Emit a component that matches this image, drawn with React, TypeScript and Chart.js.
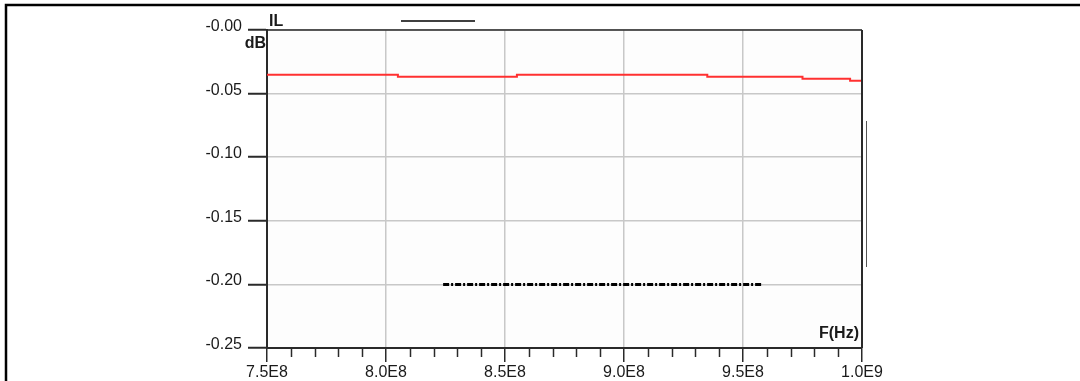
import React, { useEffect, useRef } from 'react';
import { Chart, registerables } from 'chart.js';

Chart.register(...registerables);

// ---- data ----
const freqHz = [7.5e8, 8.05e8, 8.55e8, 9.35e8, 9.75e8, 9.95e8, 1.0e9];
const ilDb = [-0.0351, -0.0368, -0.0351, -0.0368, -0.0384, -0.0398, -0.0398];
const specFreqHz = [8.24e8, 9.58e8];
const specDb = [-0.2, -0.2];
const xMajorTicks = [7.5e8, 8.0e8, 8.5e8, 9.0e8, 9.5e8, 1.0e9];
const xTickLabels = ['7.5E8', '8.0E8', '8.5E8', '9.0E8', '9.5E8', '1.0E9'];
const yTicks = [0, -0.05, -0.1, -0.15, -0.2, -0.25];
const yTickLabels = ['-0.00', '-0.05', '-0.10', '-0.15', '-0.20', '-0.25'];
const xMin = 7.5e8;
const xMax = 1.0e9;
const xMinorStep = 1e7;
const yMin = -0.25;
const yMax = 0;
const yStep = 0.05;

const FONT = '"Liberation Sans", Arial, Helvetica, sans-serif';
const AXIS = '#2a2a2a';
const GRID = '#c8c8c8';

const isMajor = (v: number) => xMajorTicks.some((m) => Math.abs(m - v) < 1);

const decorPlugin = {
  id: 'decor',
  beforeDraw(chart: any) {
    const { ctx, chartArea } = chart;
    ctx.save();
    ctx.fillStyle = '#fdfdfd';
    ctx.fillRect(chartArea.left, chartArea.top, chartArea.right - chartArea.left, chartArea.bottom - chartArea.top);
    ctx.restore();
  },
  afterDraw(chart: any) {
    const { ctx, chartArea } = chart;
    const xs = chart.scales.x;
    const { left, right, top, bottom } = chartArea;
    ctx.save();
    // outer frame (top and left)
    ctx.strokeStyle = '#000';
    ctx.lineWidth = 2.5;
    ctx.beginPath();
    ctx.moveTo(6, 381);
    ctx.lineTo(6, 5);
    ctx.lineTo(1080, 5);
    ctx.stroke();
    // plot top + right border
    ctx.strokeStyle = AXIS;
    ctx.lineWidth = 1.5;
    ctx.beginPath();
    ctx.moveTo(left, top);
    ctx.lineTo(right, top);
    ctx.stroke();
    ctx.lineWidth = 2;
    ctx.beginPath();
    ctx.moveTo(right, top);
    ctx.lineTo(right, bottom);
    ctx.stroke();
    // minor ticks
    ctx.lineWidth = 1.5;
    ctx.strokeStyle = AXIS;
    for (let v = xMin; v <= xMax + 1; v += xMinorStep) {
      if (isMajor(v)) continue;
      const px = Math.round(xs.getPixelForValue(v)) + 0.5;
      ctx.beginPath();
      ctx.moveTo(px, bottom);
      ctx.lineTo(px, bottom + 9);
      ctx.stroke();
    }
    // legend sample line at top
    ctx.strokeStyle = '#000';
    ctx.lineWidth = 1.5;
    ctx.beginPath();
    ctx.moveTo(401, 21);
    ctx.lineTo(475, 21);
    ctx.stroke();
    // thin vertical line at right
    ctx.strokeStyle = '#555';
    ctx.lineWidth = 1;
    ctx.beginPath();
    ctx.moveTo(866.5, 121);
    ctx.lineTo(866.5, 267);
    ctx.stroke();
    // labels
    ctx.fillStyle = '#1a1a1a';
    ctx.font = `bold 16px ${FONT}`;
    ctx.textBaseline = 'alphabetic';
    ctx.textAlign = 'left';
    ctx.fillText('IL', left + 2, top - 4);
    ctx.textAlign = 'right';
    ctx.fillText('dB', left - 1, top + 18);
    ctx.fillText('F(Hz)', right - 3, bottom - 10);
    ctx.restore();
  },
};

export default function App() {
  const ref = useRef<HTMLCanvasElement | null>(null);
  useEffect(() => {
    const canvas = ref.current;
    if (!canvas) return;
    const chart = new Chart(canvas, {
      type: 'line',
      data: {
        datasets: [
          {
            label: 'IL',
            data: freqHz.map((f, i) => ({ x: f, y: ilDb[i] })),
            borderColor: '#ff3030',
            borderWidth: 2,
            pointRadius: 0,
            stepped: 'before',
            fill: false,
          },
          {
            label: 'Spec',
            data: specFreqHz.map((f, i) => ({ x: f, y: specDb[i] })),
            borderColor: '#000',
            borderWidth: 3,
            borderDash: [6, 2, 2, 2],
            pointRadius: 0,
            fill: false,
          },
        ],
      },
      options: {
        responsive: false,
        animation: false,
        devicePixelRatio: 1,
        layout: { padding: { top: 30, right: 218, left: 0, bottom: 0 } },
        plugins: { legend: { display: false }, tooltip: { enabled: false } },
        scales: {
          x: {
            type: 'linear',
            min: xMin,
            max: xMax,
            afterFit: (s: any) => { s.height = 33; },
            ticks: {
              stepSize: xMinorStep,
              autoSkip: false,
              maxRotation: 0,
              padding: 1,
              color: '#1a1a1a',
              font: { family: FONT, size: 16 },
              callback: (v: any) => {
                const i = xMajorTicks.findIndex((m) => Math.abs(m - v) < 1);
                return i >= 0 ? xTickLabels[i] : '';
              },
            },
            grid: {
              color: (c: any) => (c.tick && isMajor(c.tick.value) ? GRID : 'rgba(0,0,0,0)'),
              lineWidth: 1.5,
              tickColor: (c: any) => (c.tick && isMajor(c.tick.value) ? AXIS : 'rgba(0,0,0,0)'),
              tickLength: 14,
              tickWidth: 1.5,
            },
            border: { color: AXIS, width: 2 },
          },
          y: {
            type: 'linear',
            min: yMin,
            max: yMax,
            afterFit: (s: any) => { s.width = 267; },
            ticks: {
              stepSize: yStep,
              padding: 6,
              color: '#1a1a1a',
              font: { family: FONT, size: 16, lineHeight: 0.42 },
              callback: (v: any) => {
                let best = 0;
                yTicks.forEach((t, i) => { if (Math.abs(t - v) < Math.abs(yTicks[best] - v)) best = i; });
                return [yTickLabels[best], ''];
              },
            },
            grid: {
              color: GRID,
              lineWidth: 1.5,
              tickColor: AXIS,
              tickLength: 19,
              tickWidth: 2,
            },
            border: { color: AXIS, width: 2 },
          },
        },
      },
      plugins: [decorPlugin],
    });
    return () => chart.destroy();
  }, []);
  return (
    <div style={{ position: 'fixed', left: 0, top: 0, width: 1080, height: 381, background: '#fff' }}>
      <canvas ref={ref} width={1080} height={381} style={{ width: 1080, height: 381, display: 'block' }} />
    </div>
  );
}
